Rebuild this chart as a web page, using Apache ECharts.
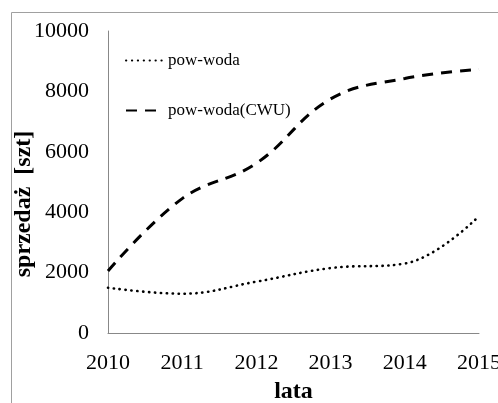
<!DOCTYPE html>
<html>
<head>
<meta charset="utf-8">
<script src="https://cdn.jsdelivr.net/npm/echarts@6/dist/echarts.min.js"></script>
<style>
  html, body { margin: 0; padding: 0; background: #fff; }
  #chart { width: 498px; height: 403px; }
</style>
</head>
<body>
<div id="chart"></div>
<script>
// Annual sales figures
const years = ['2010', '2011', '2012', '2013', '2014', '2015'];
const powWoda = [1500, 1300, 1700, 2150, 2300, 3870];
const powWodaCWU = [2050, 4450, 5620, 7750, 8430, 8730];
const seriesNames = ['pow-woda', 'pow-woda(CWU)'];

const FONT = 'Liberation Serif';
const chart = echarts.init(document.getElementById('chart'));

chart.setOption({
  animation: false,
  backgroundColor: '#fff',
  textStyle: { fontFamily: FONT, color: '#000' },
  graphic: [
    {
      type: 'line',
      shape: { x1: 11.5, y1: 12.5, x2: 498, y2: 12.5 },
      style: { stroke: '#a0a0a0', lineWidth: 1 },
      silent: true
    },
    {
      type: 'line',
      shape: { x1: 11.5, y1: 12.5, x2: 11.5, y2: 403 },
      style: { stroke: '#a0a0a0', lineWidth: 1 },
      silent: true
    }
  ],
  grid: {
    left: 108, right: 19, top: 31, bottom: 70,
    containLabel: false,
    outerBoundsMode: 'none'
  },
  legend: {
    orient: 'vertical',
    left: 120,
    top: 47,
    itemGap: 33,
    itemWidth: 37,
    itemHeight: 14,
    itemStyle: { color: 'rgba(0,0,0,0)', borderWidth: 0, opacity: 0 },
    textStyle: { fontFamily: FONT, fontSize: 17, color: '#000' },
    data: seriesNames
  },
  xAxis: {
    type: 'category',
    data: years,
    boundaryGap: false,
    name: 'lata',
    nameLocation: 'middle',
    nameGap: 47,
    nameMoveOverlap: false,
    nameTextStyle: { fontFamily: FONT, fontSize: 24, fontWeight: 'bold', color: '#000' },
    axisLine: { lineStyle: { color: '#888', width: 1 } },
    axisTick: { show: false },
    axisLabel: { fontFamily: FONT, fontSize: 22, color: '#000', margin: 19 },
    splitLine: { show: false }
  },
  yAxis: {
    type: 'value',
    min: 0,
    max: 10000,
    interval: 2000,
    name: 'sprzedaż  [szt]',
    nameLocation: 'middle',
    nameGap: 72,
    nameMoveOverlap: false,
    nameTextStyle: {
      fontFamily: FONT, fontSize: 24, fontWeight: 'bold', color: '#000',
      padding: [0, 44, 0, 0]
    },
    axisLine: { show: true, lineStyle: { color: '#888', width: 1 } },
    axisTick: { show: false },
    axisLabel: { fontFamily: FONT, fontSize: 22, color: '#000', margin: 19, formatter: v => String(v) },
    splitLine: { show: false }
  },
  series: [
    {
      name: seriesNames[0],
      type: 'line',
      data: powWoda,
      smooth: 0.4,
      symbol: 'none',
      lineStyle: { color: '#000', width: 2.6, type: [0.3, 5.6], cap: 'round' },
      itemStyle: { color: '#000' }
    },
    {
      name: seriesNames[1],
      type: 'line',
      data: powWodaCWU,
      smooth: 0.4,
      symbol: 'none',
      lineStyle: { color: '#000', width: 3, type: [11, 8] },
      itemStyle: { color: '#000' }
    }
  ]
});
</script>
</body>
</html>
